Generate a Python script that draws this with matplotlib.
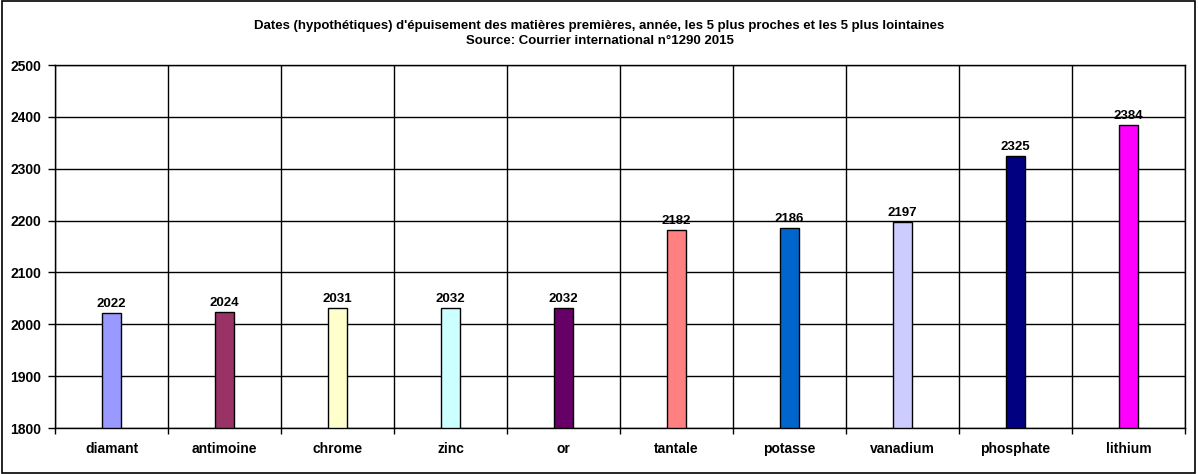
import matplotlib
matplotlib.use("Agg")
import matplotlib.pyplot as plt
from matplotlib.patches import Rectangle
import numpy as np

categories = ["diamant", "antimoine", "chrome", "zinc", "or",
              "tantale", "potasse", "vanadium", "phosphate", "lithium"]
values = [2022, 2024, 2031, 2032, 2032, 2182, 2186, 2197, 2325, 2384]
colors = ["#9999FF", "#993366", "#FFFFCC", "#CCFFFF", "#660066",
          "#FF8080", "#0066CC", "#CCCCFF", "#000080", "#FF00FF"]
yticks = [1800, 1900, 2000, 2100, 2200, 2300, 2400, 2500]
title = ("Dates (hypothétiques) d'épuisement des matières premières, année, "
         "les 5 plus proches et les 5 plus lointaines\nSource: Courrier international n°1290 2015")

plt.rcParams['font.family'] = ['Liberation Sans', 'DejaVu Sans']

fig = plt.figure(figsize=(11.99, 4.74), dpi=100)
fig.patches.append(Rectangle((0.0015, 0.003), 0.9955, 0.994, transform=fig.transFigure,
                             fill=False, edgecolor="black", linewidth=1.2))
ax = fig.add_axes([55/1199, 46/474, 1130/1199, 363/474])

base = 1800
x = np.arange(len(categories))
ax.bar(x, [v - base for v in values], bottom=base, width=0.16, color=colors,
       edgecolor="black", linewidth=1, zorder=3)
for xi, v in zip(x, values):
    ax.text(xi, v + 6, str(v), ha="center", va="bottom", fontsize=9.5,
            fontweight="bold", zorder=4)

ax.set_xlim(-0.5, len(categories) - 0.5)
ax.set_ylim(1800, 2500)
ax.set_yticks(yticks)
ax.set_yticklabels([str(t) for t in yticks], fontsize=10, fontweight="bold")
ax.set_xticks(x)
ax.set_xticklabels(categories, fontsize=10, fontweight="bold")
ax.tick_params(axis="x", length=0, pad=10)
ax.tick_params(axis="y", length=5, width=1, pad=5)
ax.set_xticks(np.arange(-0.5, len(categories), 1), minor=True)
ax.tick_params(axis="x", which="minor", length=4, width=1)
ax.grid(True, axis="y", color="black", linewidth=1, zorder=1)
ax.grid(True, axis="x", which="minor", color="black", linewidth=1, zorder=1)
for s in ax.spines.values():
    s.set_color("black")
    s.set_linewidth(1)

fig.text(0.5, 1 - 33.5/474, title, ha="center", va="center", fontsize=9.5,
         fontweight="bold", linespacing=1.35)

fig.savefig("out.png", dpi=100)
